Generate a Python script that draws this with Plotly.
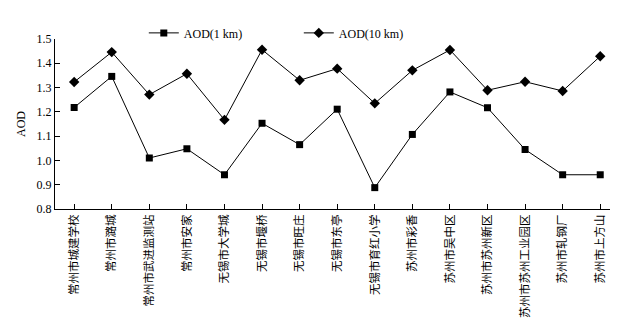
import plotly.graph_objects as go

categories = ["常州市城建学校", "常州市潞城", "常州市武进监测站", "常州市安家", "无锡市大学城",
              "无锡市堰桥", "无锡市旺庄", "无锡市东亭", "无锡市育红小学", "苏州市彩香",
              "苏州市吴中区", "苏州市苏州新区", "苏州市苏州工业园区", "苏州市轧钢厂", "苏州市上方山"]
aod_1km = [1.218, 1.346, 1.010, 1.048, 0.941, 1.153, 1.065, 1.211, 0.888, 1.107,
           1.282, 1.217, 1.045, 0.941, 0.941]
aod_10km = [1.323, 1.446, 1.271, 1.357, 1.167, 1.456, 1.330, 1.378, 1.235, 1.371,
            1.455, 1.289, 1.324, 1.286, 1.429]
y_ticks = [0.8, 0.9, 1.0, 1.1, 1.2, 1.3, 1.4, 1.5]

x = list(range(len(categories)))
fig = go.Figure()
fig.add_trace(go.Scatter(x=x, y=aod_1km, mode="lines+markers", name="AOD(1 km)",
                         line=dict(color="black", width=1),
                         marker=dict(symbol="square", size=7, color="black")))
fig.add_trace(go.Scatter(x=x, y=aod_10km, mode="lines+markers", name="AOD(10 km)",
                         line=dict(color="black", width=1),
                         marker=dict(symbol="diamond", size=8, color="black")))

font_fam = "Liberation Serif, Times New Roman, Noto Sans CJK SC, serif"
fig.update_layout(
    width=623, height=319,
    margin=dict(l=47, r=21, t=31, b=118, autoexpand=False),
    plot_bgcolor="white", paper_bgcolor="white",
    font=dict(family=font_fam, color="black", size=12),
    showlegend=True,
    legend=dict(orientation="h", x=0.16, xanchor="left", y=1.036, yanchor="middle",
                font=dict(size=12, family=font_fam), entrywidth=110, entrywidthmode="pixels",
                bgcolor="rgba(0,0,0,0)"),
    xaxis=dict(tickmode="array", tickvals=x, ticktext=categories, tickangle=-90,
               range=[-0.51, 14.26], showline=True, linecolor="black", linewidth=1,
               ticks="inside", ticklen=5, tickcolor="black", showgrid=False, zeroline=False,
               automargin=False,
               tickfont=dict(size=11.5, family="Noto Sans CJK SC")),
    yaxis=dict(tickmode="array", tickvals=y_ticks, ticktext=[f"{v:.1f}" for v in y_ticks],
               range=[0.8, 1.5], showline=True, linecolor="black", linewidth=1,
               ticks="inside", ticklen=5, tickcolor="black", showgrid=False, zeroline=False,
               automargin=False,
               title=dict(text="AOD", font=dict(size=12), standoff=8),
               tickfont=dict(size=12)),
)
fig.write_html("out.html")
